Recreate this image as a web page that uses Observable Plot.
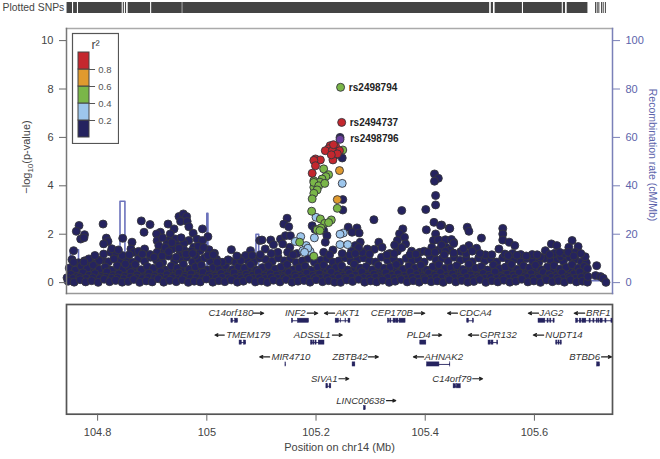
<!DOCTYPE html>
<html><head><meta charset="utf-8">
<style>html,body{margin:0;padding:0;background:#fff}#w{position:relative;width:660px;height:459px;overflow:hidden}#w svg{display:block}#lg{position:absolute;left:71px;top:32px}</style>
<script src="https://cdn.jsdelivr.net/npm/d3@7"></script>
<script src="https://cdn.jsdelivr.net/npm/@observablehq/plot@0.6"></script>
</head><body><div id="w"></div>
<script>
const xDomain=[104.743,105.743];
const xTicks=[104.8,105,105.2,105.4,105.6];
const pTicks=[0,2,4,6,8,10];
const recombTicks=[0,20,40,60,80,100];
const r2Bins=[[0,.2,"#25235f"],[.2,.4,"#9dc6ec"],[.4,.6,"#7ab648"],[.6,.8,"#e09a2e"],[.8,1,"#c4272e"]];
const r2Ticks=[.2,.4,.6,.8];
const colors={navy:"#25235f",blue:"#9dc6ec",green:"#7ab648",orange:"#e09a2e",red:"#c4272e",purple:"#6b3fa0"};

const rugBlocks=[[104.744,104.754],[104.756,104.763],[104.765,104.845],[104.847,104.849],[104.851,104.853],[104.856,104.897],[104.899,104.955],[104.956,105.518],[105.521,105.525],[105.528,105.578],[105.580,105.651],[105.653,105.657],[105.660,105.698]];
const rugTicks=[105.712,105.715,105.718,105.723,105.726,105.730];

const recombX=[104.743,104.750,104.750,104.765,104.765,104.841,104.841,104.850,104.850,104.900,104.999,105.000,105.000,105.002,105.002,105.090,105.090,105.095,105.095,105.200,105.400,105.600,105.730];
const recombR=[1.2,1.2,13.6,13.6,1.5,1.8,33.6,33.6,1.5,1,1.2,1.2,28.6,28.6,1,1,20,20,2.5,1,1.2,.8,.8];

const navyUpper=[[104.766,2.36],[104.761,2.12],[104.776,1.98],[104.769,1.8],[104.775,1.85],[104.756,1.32],[104.756,.84],[104.810,2.42],[104.816,1.84],[104.819,1.7],[104.811,1.6],[104.846,1.83],[104.880,2.55],[104.896,2.4],[104.885,2.08],[104.863,1.67],[104.861,1.39],[104.866,1.25],[104.875,1.29],[104.886,1.39],[104.896,1.16],[104.915,2.08],[104.908,2.01],[104.909,1.73],[104.912,1.53],[104.909,1.25],[104.929,2.42],[104.940,2.22],[104.933,2.01],[104.930,1.73],[104.943,1.8],[104.927,1.6],[104.946,1.53],[104.937,1.39],[104.949,2.73],[104.957,2.84],[104.963,2.73],[104.952,2.53],[104.964,2.53],[104.967,2.31],[104.975,2.04],[104.992,2.22],[105.002,1.9],[104.982,1.8],[104.992,1.74],[104.967,1.74],[104.958,1.62],[104.976,1.46],[104.967,1.25],[105.004,1.36],[105.014,1.21],[105.045,1.36],[105.039,.94],[105.028,.84],[105.019,.84],[105.08,1.32],[105.097,1.74],[105.071,1.12],[105.083,1.12],[105.062,.91],[104.988,1.32],[104.979,1.12],[104.803,.91],[104.811,1.18],[104.824,1.25],[104.833,1.25],[104.845,1.12],[104.830,.98],[104.851,.77],[104.784,.98],[104.775,.84],[104.922,1.3],[104.951,1.2],[104.918,1.1],[104.944,1.05],[104.958,1.35],[104.903,1.05],[104.919,1.85],[104.936,1.65],[104.953,1.85],[104.924,1.45],[104.949,1.42],[104.972,1.3],[104.984,1.5],[104.994,1.45],[104.826,1.4],[104.838,1.35],
[105.147,2.66],[105.141,2.42],[105.150,2.31],[105.193,2.35],[105.198,2.2],[105.214,2.15],[105.22,1.94],[105.217,1.67],[105.214,1.25],[105.231,1.35],[105.259,2.29],[105.275,2.26],[105.266,2.08],[105.279,2.05],[105.281,1.67],[105.272,1.53],[105.306,2.6],[105.357,2.98],[105.401,3.02],[105.419,3.6],[105.419,3.21],[105.416,2.49],[105.430,2.38],[105.444,2.24],[105.402,2.18],[105.419,2.01],[105.359,2.22],[105.353,2.02],[105.349,1.74],[105.362,1.87],[105.364,1.6],[105.315,1.67],[105.321,1.46],[105.307,1.38],[105.294,1.39],[105.349,1.3],[105.375,1.3],[105.415,1.74],[105.424,1.77],[105.437,1.77],[105.452,1.67],[105.438,1.46],[105.101,1.76],[105.117,1.76],[105.122,1.57],[105.135,1.8],[105.144,1.94],[105.153,1.94],[105.139,1.6],[105.152,1.46],[105.107,1.39],[105.417,4.49],[105.424,4.31],[105.417,4.19],[105.249,3.43],[105.249,3.0],[105.248,5.15],[105.244,6.0],[105.165,1.2],[105.13,1.25],[105.285,1.25],[105.335,1.2],[105.39,1.25],[105.425,1.35],[105.278,1.45],[105.265,1.3],[105.357,1.45],[105.344,1.55],[105.412,1.45],[105.43,1.55],[105.445,1.35],[105.398,1.3],
[105.428,2.36],[105.445,2.24],[105.477,2.29],[105.480,2.12],[105.503,1.84],[105.542,2.24],[105.542,2.01],[105.542,1.76],[105.554,1.67],[105.564,1.53],[105.535,1.39],[105.546,1.18],[105.448,1.78],[105.452,1.62],[105.480,1.53],[105.494,1.42],[105.465,1.28],[105.437,1.3],[105.631,1.6],[105.641,1.53],[105.620,1.32],[105.669,1.74],[105.663,1.46],[105.680,1.49],[105.637,1.21],[105.675,1.25],[105.648,1.07],[105.611,1.05],[105.596,1.16],[105.575,1.16],[105.693,1.07],[105.714,.7],[105.712,.29],[105.721,.25],[105.726,.18],[105.731,.01],[105.697,.58],[105.698,.25],[105.475,1.2],[105.51,1.15],[105.56,1.2],[105.585,1.1],[105.655,1.2],[105.486,1.3],[105.47,1.4],[105.662,1.25],[105.685,1.2],
[104.795,1.12],[104.858,1.15],[104.882,1.18],[104.930,1.28],[104.962,1.18],[104.974,1.2],[105.002,1.12],[105.012,1.15],[105.055,1.1],[105.098,1.15],[105.118,1.2],[105.148,1.25],[105.158,1.15],[105.225,1.15],[105.248,1.2],[105.262,1.14],[105.272,1.2],[105.298,1.18],[105.33,1.15],[105.343,1.2],[105.372,1.15],[105.383,1.18],[105.405,1.25],[105.418,1.25],[105.435,1.15],[105.452,1.22],[105.5,1.2],[105.522,1.15],[105.552,1.12],[105.568,1.13],[105.605,1.15],[105.628,1.16],[105.646,1.25],[105.672,1.1]];

const navyBandA=[[104.746,.06],[104.757,.02],[104.768,.12],[104.778,.03],[104.789,.08],[104.801,.01],[104.812,.14],[104.822,.04],[104.833,.09],[104.845,.02],[104.856,.05],[104.866,.13],[104.877,.01],[104.889,.07],[104.900,.03],[104.911,.16],[104.921,.02],[104.932,.09],[104.944,.04],[104.955,.12],[104.966,.01],[104.977,.06],[104.988,.03],[104.999,.15],[105.011,.02],[105.022,.08],[105.033,.04],[105.045,.11],[105.056,.02],[105.067,.06],[105.078,.14],[105.089,.03],[105.100,.07],[105.111,.01],[105.122,.1],[105.134,.03],[105.145,.13],[105.156,.02],[105.167,.06],[105.178,.09],[105.189,.02],[105.200,.12],[105.212,.04],[105.223,.08],[105.234,.02],[105.245,.01],[105.256,.11],[105.267,.05],[105.278,.14],[105.289,.02],[105.300,.07],[105.311,.03],[105.322,.1],[105.334,.01],[105.345,.06],[105.356,.13],[105.367,.03],[105.378,.08],[105.389,.02],[105.400,.11],[105.411,.04],[105.422,.07],[105.433,.01],[105.444,.12],[105.456,.03],[105.467,.09],[105.478,.02],[105.489,.05],[105.500,.13],[105.511,.01],[105.522,.08],[105.533,.03],[105.544,.1],[105.555,.02],[105.566,.06],[105.577,.14],[105.588,.03],[105.599,.07],[105.611,.01],[105.622,.11],[105.633,.04],[105.644,.08],[105.655,.02],[105.666,.12],[105.677,.03],[105.688,.06],[105.697,.02]];
const navyBandB=[[104.751,.34],[104.762,.26],[104.773,.41],[104.784,.3],[104.795,.37],[104.806,.25],[104.817,.44],[104.828,.29],[104.839,.36],[104.850,.27],[104.861,.42],[104.872,.31],[104.883,.24],[104.894,.39],[104.905,.28],[104.916,.45],[104.927,.33],[104.938,.26],[104.949,.4],[104.960,.3],[104.971,.36],[104.982,.25],[104.993,.43],[105.004,.32],[105.015,.27],[105.026,.38],[105.037,.29],[105.050,.41],[105.061,.26],[105.072,.35],[105.083,.3],[105.094,.44],[105.105,.27],[105.116,.37],[105.128,.31],[105.139,.25],[105.150,.42],[105.161,.33],[105.172,.28],[105.183,.39],[105.194,.3],[105.206,.36],[105.217,.26],[105.228,.43],[105.239,.31],[105.250,.27],[105.261,.38],[105.272,.32],[105.284,.45],[105.295,.28],[105.306,.35],[105.317,.25],[105.328,.41],[105.339,.3],[105.350,.37],[105.362,.27],[105.373,.44],[105.384,.33],[105.395,.26],[105.406,.39],[105.417,.31],[105.428,.42],[105.439,.28],[105.450,.36],[105.461,.25],[105.472,.43],[105.483,.32],[105.495,.27],[105.506,.38],[105.517,.3],[105.528,.44],[105.539,.26],[105.550,.35],[105.561,.31],[105.572,.41],[105.583,.28],[105.594,.37],[105.605,.25],[105.616,.42],[105.627,.33],[105.639,.29],[105.650,.4],[105.661,.27],[105.672,.36],[105.683,.44],[105.694,.3]];
const navyBandC=[[104.748,.6],[104.759,.52],[104.770,.68],[104.781,.58],[104.792,.72],[104.803,.55],[104.814,.64],[104.825,.5],[104.836,.7],[104.847,.57],[104.858,.63],[104.869,.75],[104.880,.53],[104.891,.66],[104.902,.59],[104.913,.73],[104.924,.51],[104.935,.68],[104.946,.6],[104.957,.76],[104.968,.55],[104.979,.65],[104.990,.72],[105.001,.52],[105.012,.63],[105.023,.58],[105.034,.7],[105.047,.54],[105.058,.66],[105.069,.6],[105.080,.74],[105.091,.52],[105.102,.62],[105.113,.7],[105.125,.56],[105.136,.65],[105.147,.75],[105.158,.53],[105.169,.61],[105.180,.68],[105.191,.5],[105.203,.64],[105.214,.72],[105.225,.57],[105.236,.62],[105.247,.69],[105.258,.52],[105.270,.76],[105.281,.6],[105.292,.66],[105.303,.53],[105.314,.71],[105.325,.59],[105.336,.64],[105.347,.75],[105.359,.55],[105.370,.68],[105.381,.6],[105.392,.72],[105.403,.52],[105.414,.66],[105.425,.74],[105.436,.58],[105.447,.62],[105.458,.7],[105.469,.54],[105.480,.76],[105.492,.6],[105.503,.66],[105.514,.52],[105.525,.73],[105.536,.58],[105.547,.64],[105.558,.75],[105.569,.55],[105.580,.69],[105.591,.61],[105.602,.72],[105.613,.53],[105.624,.65],[105.636,.7],[105.647,.56],[105.658,.63],[105.669,.74],[105.680,.59],[105.691,.67]];
const navyBandD=[[104.753,.95],[104.765,.82],[104.776,.9],[104.787,.85],[104.798,.8],[104.809,.95],[104.820,.86],[104.831,1.02],[104.842,.9],[104.853,.98],[104.864,.84],[104.875,1.0],[104.886,.88],[104.897,1.05],[104.908,.92],[104.919,.83],[104.930,1.1],[104.941,.9],[104.952,.98],[104.963,1.05],[104.974,.85],[104.985,.95],[104.996,1.02],[105.007,.88],[105.018,.96],[105.030,.82],[105.042,.9],[105.053,.84],[105.064,1.0],[105.075,.92],[105.086,.85],[105.097,1.02],[105.108,.95],[105.120,.88],[105.131,1.02],[105.142,.9],[105.153,.98],[105.164,.83],[105.175,.9],[105.186,1.0],[105.197,.84],[105.209,.92],[105.220,.98],[105.231,.85],[105.242,.9],[105.253,1.03],[105.264,.88],[105.276,.96],[105.287,1.02],[105.298,.9],[105.309,.85],[105.320,1.05],[105.331,.92],[105.342,.98],[105.353,.84],[105.365,1.0],[105.376,.9],[105.387,.96],[105.398,.85],[105.409,1.08],[105.420,.94],[105.431,1.0],[105.442,.88],[105.453,1.05],[105.464,.92],[105.475,.98],[105.486,.86],[105.498,1.02],[105.509,.9],[105.520,.98],[105.531,.85],[105.542,1.03],[105.553,.92],[105.564,.97],[105.575,.86],[105.586,1.0],[105.597,.9],[105.608,.84],[105.619,1.0],[105.630,.92],[105.642,.97],[105.653,.88],[105.664,1.05],[105.675,.95],[105.686,.85],[105.695,.82]];
const navyBandE=[[104.744,.2],[104.755,.17],[104.767,.22],[104.779,.18],[104.791,.2],[104.804,.17],[104.815,.22],[104.826,.18],[104.837,.2],[104.848,.16],[104.860,.22],[104.871,.19],[104.882,.17],[104.893,.21],[104.904,.18],[104.915,.23],[104.926,.17],[104.937,.2],[104.948,.16],[104.959,.22],[104.970,.18],[104.981,.2],[104.992,.17],[105.006,.21],[105.017,.18],[105.028,.22],[105.040,.17],[105.052,.2],[105.063,.17],[105.074,.23],[105.085,.18],[105.096,.2],[105.107,.17],[105.118,.22],[105.130,.18],[105.141,.2],[105.152,.17],[105.163,.22],[105.175,.19],[105.186,.17],[105.197,.21],[105.208,.18],[105.220,.22],[105.231,.17],[105.242,.2],[105.254,.18],[105.265,.22],[105.276,.17],[105.287,.2],[105.298,.18],[105.309,.22],[105.320,.17],[105.331,.21],[105.343,.18],[105.354,.2],[105.365,.16],[105.376,.22],[105.387,.18],[105.398,.2],[105.409,.17],[105.420,.22],[105.431,.19],[105.442,.17],[105.453,.21],[105.465,.18],[105.476,.22],[105.487,.17],[105.498,.2],[105.509,.18],[105.520,.22],[105.531,.17],[105.542,.21],[105.553,.18],[105.564,.2],[105.575,.16],[105.586,.22],[105.597,.18],[105.608,.2],[105.620,.17],[105.631,.22],[105.642,.19],[105.653,.17],[105.664,.21],[105.675,.18],[105.686,.22]];
const navyBandF=[[104.750,.48],[104.764,.47],[104.775,.52],[104.788,.46],[104.800,.5],[104.811,.47],[104.823,.52],[104.834,.48],[104.845,.46],[104.856,.5],[104.867,.48],[104.878,.52],[104.889,.46],[104.900,.5],[104.911,.47],[104.922,.52],[104.933,.46],[104.944,.5],[104.955,.47],[104.966,.52],[104.977,.48],[104.988,.46],[104.999,.5],[105.010,.47],[105.021,.52],[105.032,.48],[105.043,.46],[105.055,.5],[105.066,.47],[105.077,.52],[105.088,.48],[105.099,.46],[105.110,.5],[105.121,.47],[105.133,.52],[105.144,.48],[105.155,.46],[105.166,.5],[105.177,.47],[105.188,.52],[105.199,.48],[105.210,.46],[105.221,.5],[105.233,.47],[105.244,.52],[105.255,.46],[105.267,.5],[105.278,.47],[105.289,.52],[105.300,.48],[105.311,.46],[105.322,.5],[105.333,.47],[105.344,.52],[105.356,.48],[105.367,.46],[105.378,.5],[105.389,.47],[105.400,.52],[105.411,.48],[105.422,.46],[105.433,.5],[105.444,.47],[105.455,.52],[105.466,.48],[105.477,.46],[105.488,.5],[105.499,.47],[105.510,.52],[105.521,.48],[105.532,.46],[105.543,.5],[105.555,.47],[105.566,.52],[105.577,.48],[105.588,.46],[105.599,.5],[105.610,.47],[105.621,.52],[105.632,.48],[105.644,.46],[105.655,.5],[105.666,.47],[105.677,.52],[105.688,.48]];
const blueSnps=[[105.2,2.7],[105.172,1.9],[105.162,1.7],[105.197,1.85],[105.250,2.05],[105.244,2.0],[105.244,1.57],[105.258,1.57],[105.182,1.53],[105.176,1.32],[105.189,1.29],[105.185,1.42],[105.179,1.25],[105.248,4.1]];
const greenSnps=[[105.245,8.07],[105.249,5.48],[105.214,4.7],[105.223,4.46],[105.218,4.38],[105.211,4.28],[105.196,4.21],[105.203,4.0],[105.196,3.94],[105.207,4.15],[105.196,4.14],[105.205,4.0],[105.216,4.1],[105.202,3.83],[105.196,3.69],[105.193,3.46],[105.239,3.07],[105.192,2.95],[105.208,2.63],[105.228,2.59],[105.216,2.45],[105.223,2.48],[105.209,2.26],[105.202,2.18],[105.207,2.15],[105.170,1.67],[105.196,1.09]];
const orangeSnps=[[105.243,4.63],[105.239,3.43]];
const redSnps=[[105.226,5.66],[105.236,5.62],[105.243,5.45],[105.223,5.53],[105.217,5.45],[105.230,5.45],[105.232,5.7],[105.234,5.25],[105.231,5.07],[105.239,5.32],[105.228,5.28],[105.199,5.11],[105.208,5.07],[105.196,5.05],[105.199,4.83],[105.193,4.52],[105.247,6.62]];
const purpleSnps=[[105.244,5.92]];
const annotNames=["rs2498794","rs2494737","rs2498796"];
const annotX=[105.251,105.2525,105.2535];
const annotP=[8.07,6.62,5.94];

const geneNames=["C14orf180","INF2","AKT1","CEP170B","CDCA4","JAG2","BRF1","TMEM179","ADSSL1","PLD4","GPR132","NUDT14","MIR4710","ZBTB42","AHNAK2","BTBD6","SIVA1","C14orf79","LINC00638"];
const geneRows=[0,0,0,0,0,0,0,1,1,1,1,1,2,2,2,2,3,3,4];
const geneStart=[105.045,105.156,105.236,105.332,105.477,105.6075,105.6765,105.060,105.191,105.391,105.516,105.640,105.144,105.267,105.4035,105.715,105.219,105.452,105.288];
const geneEnd=[105.057,105.187,105.263,105.364,105.489,105.637,105.743,105.072,105.2155,105.402,105.5335,105.650,105.145,105.272,105.446,105.720,105.228,105.465,105.291];
const labelX=[105.044,105.162,105.258,105.339,105.492,105.631,105.717,105.076,105.193,105.388,105.534,105.654,105.154,105.262,105.434,105.692,105.215,105.449,105.2815];
const arrowFrom=[105.0855,105.184,105.234,105.380,105.459,105.6075,105.692,105.032,105.230,105.413,105.498,105.617,105.115,105.296,105.397,105.723,105.242,105.487,105.329];
const arrowTo=[105.104,105.203,105.2155,105.399,105.441,105.589,105.673,105.015,105.248,105.430,105.479,105.598,105.097,105.314,105.3785,105.741,105.260,105.505,105.346];
const exons=[[0,105.045,105.048],[0,105.052,105.057],[1,105.156,105.158],[1,105.167,105.187],[2,105.236,105.242],[2,105.245,105.246],[2,105.254,105.255],[2,105.2595,105.263],[3,105.332,105.334],[3,105.336,105.338],[3,105.342,105.346],[3,105.347,105.351],[3,105.353,105.364],[4,105.477,105.480],[4,105.4875,105.489],[5,105.6075,105.620],[5,105.624,105.626],[5,105.629,105.631],[5,105.635,105.637],[6,105.6765,105.680],[6,105.683,105.686],[6,105.688,105.695],[6,105.701,105.703],[6,105.708,105.710],[6,105.714,105.7155],[6,105.717,105.719],[6,105.721,105.725],[6,105.730,105.732],[6,105.741,105.743],[7,105.060,105.064],[7,105.068,105.072],[8,105.191,105.1935],[8,105.195,105.197],[8,105.199,105.201],[8,105.205,105.2155],[9,105.391,105.402],[10,105.516,105.520],[10,105.5215,105.525],[10,105.532,105.5335],[11,105.640,105.642],[11,105.644,105.646],[11,105.648,105.650],[12,105.144,105.145],[13,105.267,105.272],[14,105.4035,105.426],[14,105.445,105.446],[15,105.715,105.720],[16,105.219,105.222],[16,105.225,105.228],[17,105.452,105.4565],[17,105.458,105.465],[18,105.288,105.291]];

const genes=geneNames.map((name,i)=>({name,row:geneRows[i],start:geneStart[i],end:geneEnd[i],lx:labelX[i],a:arrowFrom[i],b:arrowTo[i]}));
const base={width:660,marginLeft:66,marginRight:48,style:{fontFamily:"'Liberation Sans',Arial,sans-serif",background:"transparent"}};
const gray="#444",slate="#5c64ab";
const dotsOf=(arr,fill)=>Plot.dot(arr,{x:d=>d[0],y:d=>d[1],r:4,fill,stroke:"#35353d",strokeWidth:.9});

const rug=Plot.plot({...base,height:26,marginTop:2,marginBottom:13,x:{domain:xDomain,axis:null},y:{domain:[0,1],axis:null},marks:[
  Plot.rectY(rugBlocks,{x1:d=>d[0],x2:d=>d[1],y1:0,y2:1,fill:"#444"}),
  Plot.tickX(rugTicks,{x:d=>d,stroke:"#444",strokeWidth:1}),
  Plot.text(["Plotted SNPs"],{text:d=>d,frameAnchor:"left",dx:-64,textAnchor:"start",fontSize:10.4,fill:"#444"})
]});

const main=Plot.plot({...base,height:270,marginTop:2,marginBottom:3,x:{domain:xDomain,axis:null},y:{domain:[-.45,10.5],axis:null},marks:[
  Plot.line(recombX.map((x,i)=>[x,recombR[i]/10]),{x:d=>d[0],y:d=>d[1],stroke:"#6b72bb",strokeWidth:1.6,curve:"linear"}),
  dotsOf(navyBandD,colors.navy),dotsOf(navyBandF,colors.navy),dotsOf(navyBandC,colors.navy),dotsOf(navyBandB,colors.navy),dotsOf(navyBandE,colors.navy),dotsOf(navyBandA,colors.navy),dotsOf(navyUpper,colors.navy),
  dotsOf(blueSnps,colors.blue),dotsOf(greenSnps,colors.green),dotsOf(orangeSnps,colors.orange),dotsOf(redSnps,colors.red),dotsOf(purpleSnps,colors.purple),
  Plot.text(annotNames,{x:(d,i)=>annotX[i],y:(d,i)=>annotP[i],text:d=>d,textAnchor:"start",fontWeight:"bold",fontSize:10,fill:"#222",dx:5}),
  Plot.frame({anchor:"top",stroke:"#aaa",strokeWidth:1.5}),
  Plot.frame({anchor:"bottom",stroke:"#999",strokeWidth:1.5}),
  Plot.frame({anchor:"left",stroke:"#777",strokeWidth:1.5}),
  Plot.frame({anchor:"right",stroke:"#7a80b8",strokeWidth:1.5}),
  Plot.axisY(pTicks,{anchor:"left",tickSize:7,tickPadding:6,fontSize:11,stroke:"#666",fill:gray,label:null,tickFormat:d=>String(d)}),
  Plot.axisY(recombTicks.map(d=>d/10),{anchor:"right",tickSize:7,tickPadding:6,fontSize:11,stroke:"#7a80b8",fill:slate,label:null,tickFormat:d=>String(d*10)}),
  Plot.text(["\u2212log10(p-value)"],{text:d=>d,frameAnchor:"left",textAnchor:"middle",dx:-40,dy:-4,rotate:-90,fontSize:11,fill:gray}),
  Plot.text(["Recombination rate (cM/Mb)"],{text:d=>d,frameAnchor:"right",textAnchor:"middle",dx:40,dy:-6,rotate:90,fontSize:10.5,fill:slate})
]});
for(const t of main.querySelectorAll("text")){
  if(t.textContent.includes("log10")){
    t.innerHTML='\u2212log<tspan dy="3" font-size="8">10</tspan><tspan dy="-3">(p-value)</tspan>';
  }
}

const panel=Plot.plot({...base,height:163,marginTop:8,marginBottom:45.3,x:{domain:xDomain,axis:null},y:{domain:[4.622,-.398],axis:null},marks:[
  Plot.frame({stroke:"#555",strokeWidth:1.7}),
  Plot.ruleY(genes,{y:d=>d.row+.345,x1:"start",x2:"end",stroke:colors.navy,strokeWidth:.9}),
  Plot.rect(exons,{x1:d=>d[1],x2:d=>d[2],y1:d=>geneRows[d[0]]+.25,y2:d=>geneRows[d[0]]+.44,fill:colors.navy,stroke:colors.navy,strokeWidth:.5}),
  Plot.text(genes,{x:"lx",y:"row",text:"name",fontSize:9.6,fontStyle:"italic",fill:"#333"}),
  Plot.arrow(genes,{x1:"a",x2:"b",y1:"row",y2:"row",stroke:"#222",strokeWidth:1.2,headLength:5,headAngle:50}),
  Plot.axisX(xTicks,{anchor:"bottom",tickSize:7,tickPadding:7,fontSize:11,stroke:"#666",fill:gray,label:null,tickFormat:d=>String(d)}),
  Plot.text(["Position on chr14 (Mb)"],{text:d=>d,frameAnchor:"bottom",dy:37,fontSize:11,fill:gray})
]});

const legend=Plot.plot({width:48,height:112,marginLeft:1,marginRight:1,marginTop:1,marginBottom:1,style:{fontFamily:"'Liberation Sans',Arial,sans-serif",background:"#fff"},
  x:{domain:[0,1],range:[7,18],axis:null},y:{domain:[0,1],range:[105,20],axis:null},marks:[
  Plot.frame({stroke:"#555",strokeWidth:1.2}),
  Plot.rect(r2Bins,{x1:0,x2:1,y1:d=>d[0],y2:d=>d[1],fill:d=>d[2],stroke:"#444",strokeWidth:1}),
  Plot.ruleY(r2Ticks,{y:d=>d,x1:1,x2:1.55,stroke:"#555"}),
  Plot.text(r2Ticks,{y:d=>d,x:1.8,text:d=>d.toFixed(1),textAnchor:"start",fontSize:9.5,fill:"#555"}),
  Plot.text(["r\u00b2"],{text:d=>d,x:1.55,y:1.094,fontSize:12.5,fill:"#444"})
]});
legend.id="lg";
const w=document.getElementById("w");
w.append(rug,main,panel,legend);
</script></body></html>
